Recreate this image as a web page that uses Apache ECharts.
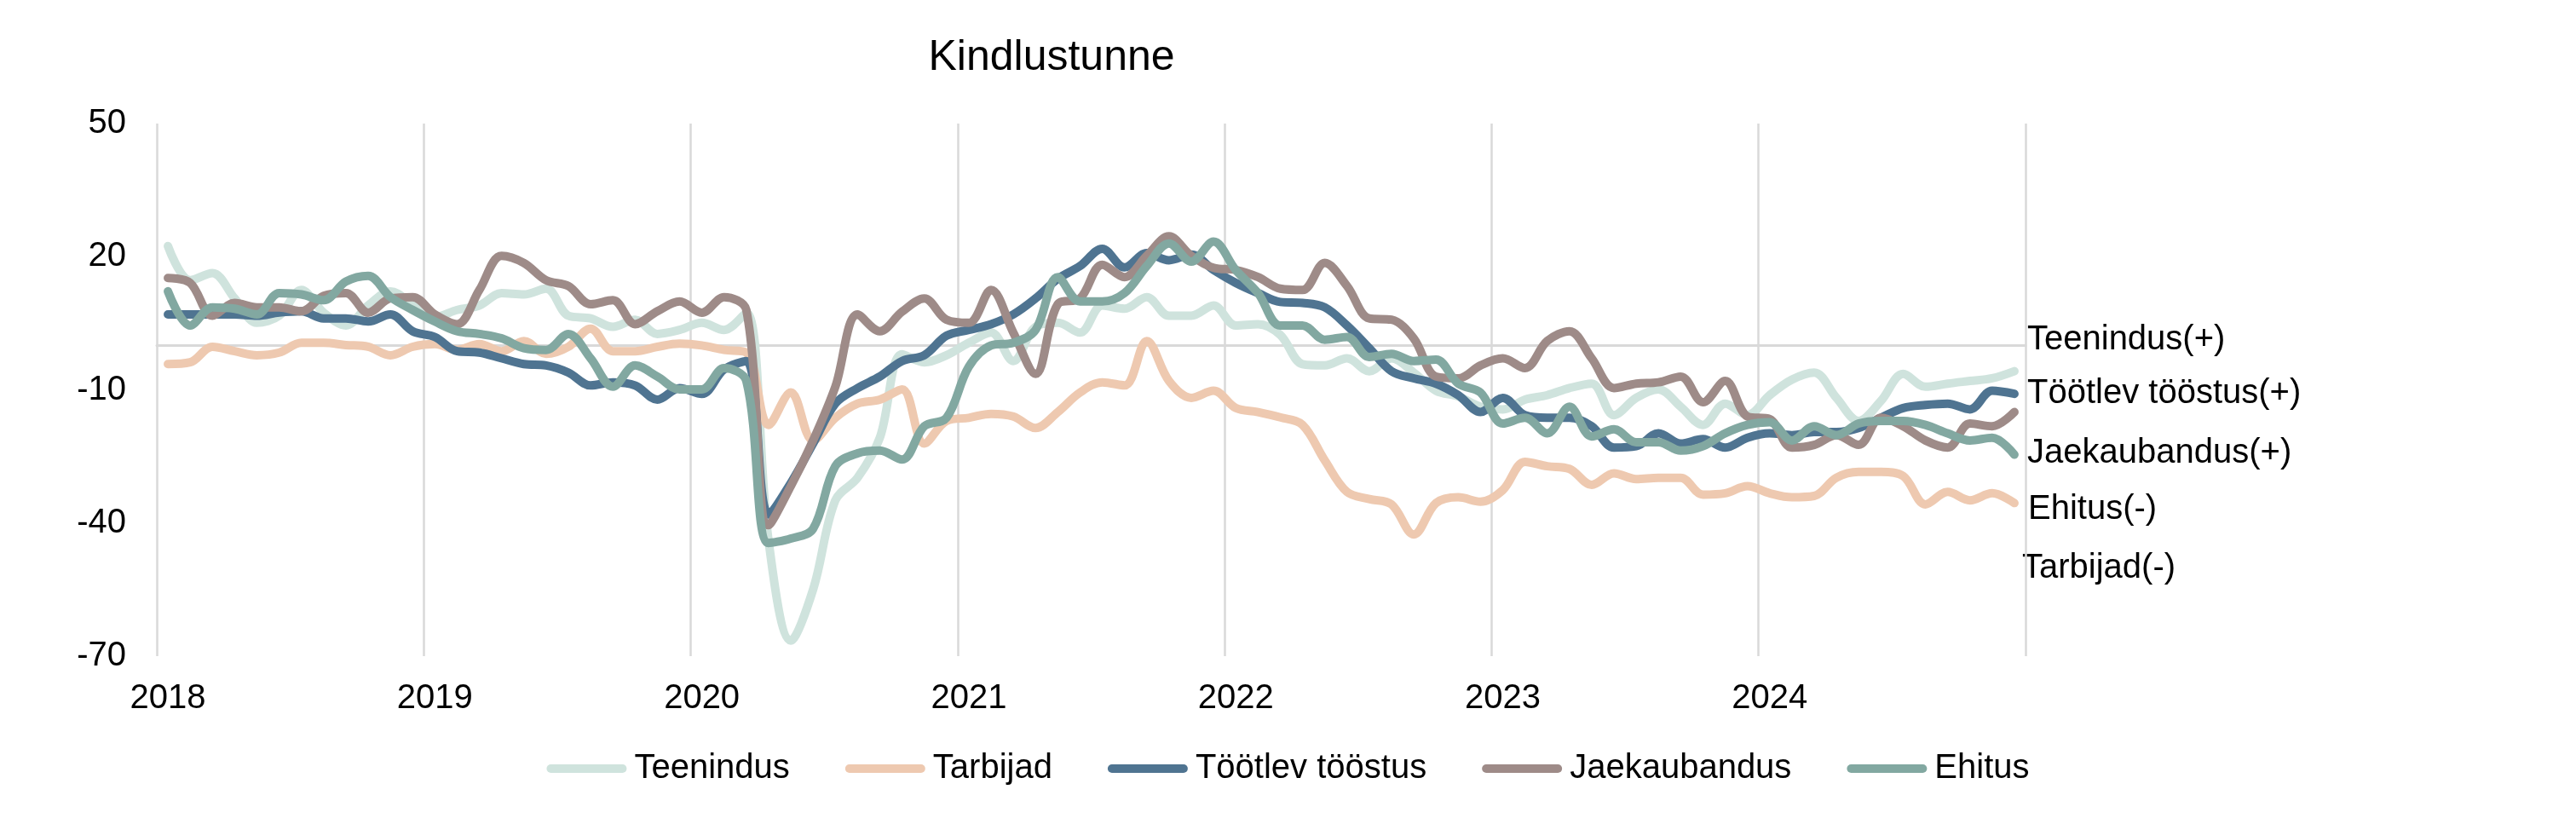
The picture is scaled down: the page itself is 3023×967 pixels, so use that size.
<!DOCTYPE html>
<html>
<head>
<meta charset="utf-8">
<script src="https://cdn.jsdelivr.net/npm/echarts@6/dist/echarts.min.js"></script>
<style>html,body{margin:0;padding:0;background:#fff}#c{width:3023px;height:967px}</style>
</head>
<body>
<div id="c"></div>
<script>
// ---- data ----
const years = ['2018', '2019', '2020', '2021', '2022', '2023', '2024'];
const categories = [];
years.forEach(function (y) { for (let m = 1; m <= 12; m++) categories.push(y + '-' + (m < 10 ? '0' + m : m)); });

const yTickLabels = [-70, -40, -10, 20, 50];

const seriesNames = ['Teenindus', 'Tarbijad', 'Töötlev tööstus', 'Jaekaubandus', 'Ehitus'];
const endLabels = ['Teenindus(+)', 'Töötlev tööstus(+)', 'Jaekaubandus(+)', 'Ehitus(-)', 'Tarbijad(-)'];

const teenindus = [
  22.4, 14.7, 16.3, 10.6, 5.1, 6.7, 12.5, 7.4, 4.5, 9.0, 12.2, 9.3,
  6.4, 8.0, 9.0, 11.8, 11.5, 12.8, 6.7, 6.1, 4.2, 5.8, 2.6, 3.5,
  5.1, 3.5, 7.4, -44.0, -66.5, -55.0, -34.9, -29.8, -20.8, -2.0, -3.8, -2.2,
  0.6, 2.9, -3.5, 4.2, 5.1, 2.9, 9.0, 8.3, 10.9, 6.7, 6.7, 9.0,
  4.5, 4.8, 2.4, -4.2, -4.5, -2.9, -5.8, -2.9, -6.1, -10.2, -11.5, -13.8,
  -14.4, -12.2, -11.2, -9.6, -8.6, -15.7, -11.8, -9.9, -13.8, -17.9, -13.1, -15.7,
  -11.2, -7.7, -6.1, -11.8, -17.0, -12.5, -6.4, -9.3, -8.6, -8.0, -7.4, -5.8
];
const tarbijad = [
  -4.2, -3.8, -0.3, -1.3, -2.2, -1.6, 0.6, 0.6, 0.1, -0.3, -2.2, -0.3,
  0.3, -1.0, 0.3, -1.3, 1.0, -1.9, -0.3, 3.8, -1.3, -1.3, -0.3, 0.4,
  0.0, -1.0, -1.6, -17.9, -10.6, -21.4, -16.3, -13.1, -12.2, -9.9, -22.1, -17.0,
  -16.3, -15.4, -16.0, -18.6, -15.0, -10.6, -8.3, -9.0, 1.0, -8.0, -11.8, -10.2,
  -14.1, -15.0, -16.2, -17.9, -25.9, -33.0, -34.6, -35.8, -42.6, -35.5, -34.2, -35.2,
  -32.6, -26.2, -27.2, -27.8, -31.4, -28.8, -30.1, -29.8, -29.8, -33.6, -33.3, -31.7,
  -33.3, -34.2, -33.9, -29.8, -28.5, -28.5, -29.4, -35.8, -33.0, -34.9, -33.3, -35.5
];
const tootlev = [
  7.0, 7.0, 7.0, 7.0, 6.7, 7.4, 7.7, 6.1, 6.1, 5.4, 7.0, 3.2,
  1.9, -1.3, -1.6, -2.9, -4.2, -4.5, -6.1, -9.0, -8.3, -9.0, -12.2, -9.6,
  -10.9, -5.4, -3.5, -38.1, -31.0, -22.1, -13.1, -9.6, -7.0, -3.5, -2.2, 2.2,
  3.5, 4.8, 7.0, 10.6, 15.0, 17.9, 21.8, 17.6, 20.8, 19.2, 20.5, 17.0,
  14.1, 11.8, 9.8, 9.6, 8.6, 4.5, -0.6, -5.8, -7.4, -8.6, -11.2, -15.0,
  -11.8, -15.7, -16.3, -16.3, -18.2, -23.0, -22.7, -19.8, -22.1, -21.1, -23.0, -20.8,
  -19.8, -20.2, -19.5, -19.5, -18.6, -16.3, -14.1, -13.4, -13.1, -14.4, -10.2, -10.9
];
const jaekaubandus = [
  15.2, 14.1, 6.7, 9.6, 8.6, 8.6, 7.7, 11.2, 11.8, 7.4, 10.6, 10.9,
  7.0, 4.8, 12.5, 20.2, 18.6, 14.7, 13.4, 9.3, 10.2, 4.8, 7.7, 9.9,
  7.4, 10.9, 8.0, -40.5, -31.7, -21.4, -9.3, 7.0, 3.2, 7.6, 10.6, 5.8,
  5.1, 12.5, 2.9, -6.4, 9.3, 10.6, 18.2, 15.4, 20.2, 24.6, 20.2, 17.5,
  17.0, 15.4, 12.8, 12.5, 18.6, 13.4, 6.1, 5.8, 1.6, -7.0, -7.4, -4.5,
  -2.9, -5.1, 1.0, 3.2, -2.9, -9.6, -8.6, -8.3, -7.0, -12.8, -8.0, -16.0,
  -16.6, -23.0, -22.4, -20.2, -22.4, -16.3, -18.2, -21.4, -23.0, -17.6, -18.2, -15.0
];
const ehitus = [
  12.2, 4.5, 8.6, 8.3, 7.0, 11.8, 11.5, 10.2, 14.4, 15.7, 10.9, 8.0,
  5.4, 3.2, 2.6, 1.6, -0.6, -1.0, 2.6, -2.9, -9.3, -4.5, -7.0, -9.9,
  -9.9, -5.1, -8.0, -44.5, -43.5, -41.3, -27.2, -24.3, -23.7, -25.7, -18.2, -16.3,
  -4.8, 0.0, 0.6, 3.5, 15.4, 9.9, 9.9, 11.8, 17.9, 23.0, 18.9, 23.4,
  17.0, 11.8, 4.5, 4.5, 1.3, 1.9, -2.6, -1.9, -3.5, -3.2, -8.6, -10.6,
  -17.6, -16.3, -19.8, -13.8, -20.5, -18.9, -21.8, -21.8, -23.7, -22.7, -19.8, -17.9,
  -17.3, -21.4, -18.2, -20.2, -17.6, -17.0, -17.0, -17.9, -19.8, -21.4, -20.8, -24.6
];
const seriesData = [teenindus, tarbijad, tootlev, jaekaubandus, ehitus];
const colors = ['#cfe3dd', '#eec9b0', '#4f7491', '#9e8b88', '#82a8a1'];

// ---- chart ----
const FONT = '"Liberation Sans", Arial, sans-serif';
const chart = echarts.init(document.getElementById('c'), null, { renderer: 'canvas' });

const endLabelY = [399, 461.5, 531.5, 597.5, 666.5];
const endLabelX = [2379, 2379, 2379, 2380, 2373];

const option = {
  animation: false,
  backgroundColor: '#ffffff',
  textStyle: { fontFamily: FONT },
  color: colors,
  grid: { left: 184, right: 646, top: 145, bottom: 197, outerBoundsMode: 'none', containLabel: false },
  legend: {
    data: seriesNames,
    left: 'center',
    top: 882,
    padding: 0,
    itemWidth: 94,
    itemHeight: 10,
    itemGap: 65,
    icon: 'path://M5,0 L89,0 A5,5 0 0 1 89,10 L5,10 A5,5 0 0 1 5,0 Z',
    textStyle: { fontSize: 40, color: '#000', fontFamily: FONT, padding: [0, 0, 0, 4] }
  },
  xAxis: [
    {
      type: 'category',
      data: categories,
      boundaryGap: true,
      position: 'bottom',
      axisLine: { show: false, onZero: false },
      axisTick: { show: false },
      axisLabel: {
        interval: 11,
        fontSize: 40,
        color: '#000',
        fontFamily: FONT,
        margin: 30,
        formatter: function (v) { return v.slice(0, 4); }
      },
      splitLine: { show: true, interval: 11, lineStyle: { color: '#d9d9d9', width: 2.5 } }
    },
    {
      type: 'category',
      data: categories,
      boundaryGap: true,
      position: 'top',
      axisLine: { show: true, onZero: true, lineStyle: { color: '#d9d9d9', width: 3 } },
      axisTick: { show: false },
      axisLabel: { show: false },
      splitLine: { show: false }
    }
  ],
  yAxis: {
    type: 'value',
    min: -70,
    max: 50,
    interval: 10,
    axisLine: { show: false },
    axisTick: { show: false },
    splitLine: { show: false },
    axisLabel: {
      fontSize: 40,
      color: '#000',
      fontFamily: FONT,
      margin: 36,
      formatter: function (v) { return yTickLabels.indexOf(v) >= 0 ? String(v) : ''; }
    }
  },
  graphic: [
    {
      type: 'text', x: 1234, y: 68,
      style: { text: 'Kindlustunne', fill: '#000', font: '50px ' + FONT, textAlign: 'center', textVerticalAlign: 'middle' }
    }
  ].concat(endLabels.map(function (t, i) {
    return {
      type: 'text', x: endLabelX[i], y: endLabelY[i],
      style: { text: t, fill: '#000', font: '40px ' + FONT, textAlign: 'left', textVerticalAlign: 'middle' }
    };
  })),
  series: seriesNames.map(function (name, i) {
    return {
      name: name,
      type: 'line',
      xAxisIndex: 0,
      data: seriesData[i],
      smooth: 0.35,
      symbol: 'none',
      showSymbol: false,
      lineStyle: { width: 10, color: colors[i], cap: 'round', join: 'round' },
      itemStyle: { color: colors[i] },
      emphasis: { disabled: true }
    };
  })
};
chart.setOption(option);
</script>
</body>
</html>
